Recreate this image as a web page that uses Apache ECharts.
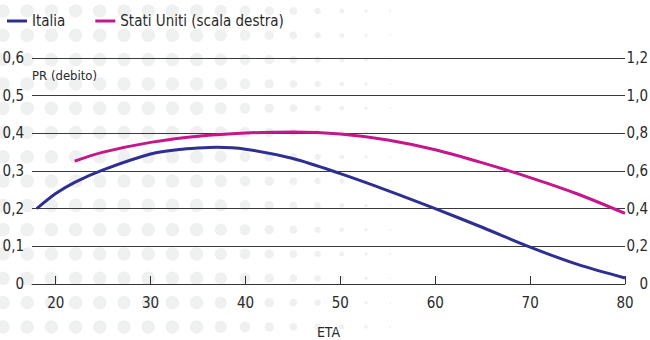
<!DOCTYPE html>
<html>
<head>
<meta charset="utf-8">
<script src="https://cdn.jsdelivr.net/npm/echarts@6/dist/echarts.min.js"></script>
<style>
  html, body { margin: 0; padding: 0; background: #ffffff; }
  #chart { width: 650px; height: 340px; }
</style>
</head>
<body>
<div id="chart"></div>
<script>
// Età (asse x) e valori delle due serie
const ageTicks = [20, 30, 40, 50, 60, 70, 80];
const italiaAges = [18, 20, 22, 25, 30, 33, 35, 37, 40, 45, 50, 55, 60, 65, 70, 75, 80];
const italia = [0.200, 0.240, 0.270, 0.303, 0.345, 0.357, 0.361, 0.363, 0.358, 0.333, 0.293, 0.248, 0.200, 0.150, 0.098, 0.052, 0.016];
const usaAges = [22, 25, 30, 35, 40, 45, 50, 55, 60, 65, 70, 75, 80];
const statiUniti = [0.652, 0.700, 0.752, 0.785, 0.802, 0.807, 0.797, 0.765, 0.713, 0.643, 0.565, 0.478, 0.375];
const leftTicks = [0, 0.1, 0.2, 0.3, 0.4, 0.5, 0.6];
const rightTicks = [0, 0.2, 0.4, 0.6, 0.8, 1.0, 1.2];

const FONT = "'Liberation Sans Narrow', 'DejaVu Sans Condensed', 'Roboto', sans-serif";
const INK = '#2a2a2a';

function fmt(v) {
  return v === 0 ? '0' : v.toFixed(1).replace('.', ',');
}

// Decorative halftone dot texture behind the plot
function dotTexture() {
  const items = [];
  for (let j = 0; j < 14; j++) {
    const cy = 11 + j * 24.3;
    for (let i = 0; i < 20; i++) {
      const cx = 3 + i * 24.2;
      const d = cx <= 200 ? 13.5 : 13.5 - (cx - 200) * 0.06;
      if (d < 0.8) continue;
      items.push({
        type: 'circle',
        silent: true,
        z: -10,
        shape: { cx: cx, cy: cy, r: d / 2 },
        style: { fill: '#eff0f0' }
      });
    }
  }
  return items;
}

const chart = echarts.init(document.getElementById('chart'), null, { renderer: 'svg' });

const option = {
  animation: false,
  backgroundColor: '#ffffff',
  textStyle: { fontFamily: FONT },
  legend: {
    left: 7,
    top: 11,
    padding: 0,
    itemGap: 30,
    itemWidth: 20,
    itemHeight: 3,
    icon: 'rect',
    textStyle: { fontFamily: FONT, fontSize: 15, color: INK, lineHeight: 20 },
    data: ['Italia', 'Stati Uniti (scala destra)']
  },
  grid: {
    left: 32,
    right: 25,
    top: 58,
    bottom: 56,
    outerBoundsMode: 'none'
  },
  xAxis: {
    type: 'value',
    min: 17.5,
    max: 80,
    name: 'ETA',
    nameLocation: 'middle',
    nameGap: 41,
    nameTextStyle: { fontFamily: FONT, fontSize: 14, color: INK },
    axisLine: { show: true, lineStyle: { color: '#333', width: 1 } },
    axisTick: { show: true, inside: true, length: 8, customValues: ageTicks, lineStyle: { color: '#333' } },
    axisLabel: {
      customValues: ageTicks,
      fontFamily: FONT, fontSize: 15, color: INK, margin: 11,
      formatter: v => String(v)
    },
    splitLine: { show: false }
  },
  yAxis: [
    {
      type: 'value',
      min: 0,
      max: 0.6,
      interval: 0.1,
      axisLine: { show: false },
      axisTick: { show: false },
      axisLabel: {
        fontFamily: FONT, fontSize: 15, color: INK, margin: 8,
        formatter: v => fmt(v)
      },
      splitLine: { show: true, lineStyle: { color: '#3a3a3a', width: 1 } }
    },
    {
      type: 'value',
      min: 0,
      max: 1.2,
      interval: 0.2,
      position: 'right',
      axisLine: { show: false },
      axisTick: { show: false },
      axisLabel: {
        fontFamily: FONT, fontSize: 15, color: INK, margin: 23, align: 'right',
        formatter: v => fmt(v)
      },
      splitLine: { show: false }
    }
  ],
  graphic: dotTexture().concat([
    {
      type: 'text',
      left: 32,
      top: 69,
      style: { text: 'PR (debito)', fontFamily: FONT, fontSize: 13, fill: INK }
    }
  ]),
  series: [
    {
      name: 'Italia',
      type: 'line',
      yAxisIndex: 0,
      smooth: 0.3,
      showSymbol: false,
      color: '#2e2f91',
      lineStyle: { width: 3, color: '#2e2f91' },
      data: italiaAges.map((a, i) => [a, italia[i]])
    },
    {
      name: 'Stati Uniti (scala destra)',
      type: 'line',
      yAxisIndex: 1,
      smooth: 0.3,
      showSymbol: false,
      color: '#c4178b',
      lineStyle: { width: 3, color: '#c4178b' },
      data: usaAges.map((a, i) => [a, statiUniti[i]])
    }
  ]
};

chart.setOption(option);
</script>
</body>
</html>
